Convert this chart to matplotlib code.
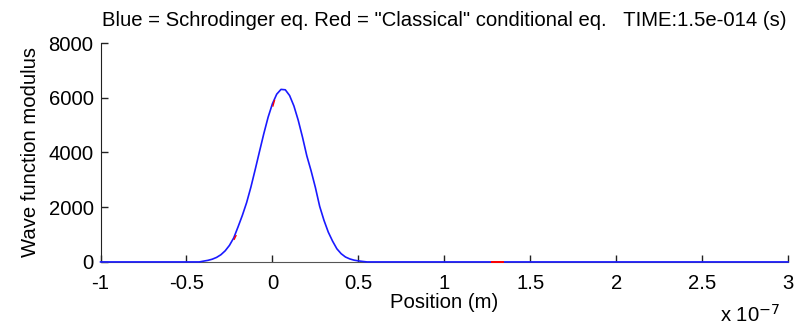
import numpy as np
import matplotlib.pyplot as plt
from matplotlib.ticker import FuncFormatter

plt.rcParams['font.family'] = ['Liberation Sans', 'DejaVu Sans']

# Schrodinger wave packet modulus (position in units of 1e-7 m)
pos_e7 = [-1.0, -0.425, -0.400, -0.375, -0.350, -0.325, -0.300, -0.275, -0.250,
          -0.225, -0.200, -0.175, -0.150, -0.125, -0.100, -0.075, -0.050,
          -0.025, 0.000, 0.025, 0.050, 0.075, 0.100, 0.125, 0.150, 0.175,
          0.200, 0.225, 0.250, 0.275, 0.300, 0.325, 0.350, 0.375, 0.400,
          0.425, 0.450, 0.475, 0.500, 0.525, 0.550, 3.0]
modulus = [0, 0, 30, 58, 100, 165, 262, 405, 605,
           880, 1280, 1700, 2170, 2740, 3380, 4040, 4690,
           5290, 5780, 6130, 6305, 6290, 6080, 5700, 5180, 4560,
           3880, 3330, 2720, 2030, 1520, 1090, 760, 480, 300,
           180, 110, 65, 38, 18, 0, 0]

# "Classical" conditional trajectories
classical_x_e7 = [-0.222, -0.212, 0.003, 0.012]
classical_y = [830, 960, 5700, 5900]
classical_tail_x_e7 = [1.28, 1.34]
classical_tail_y = [0, 0]

x = np.array(pos_e7) * 1e-7
xc = np.array(classical_x_e7) * 1e-7
xt = np.array(classical_tail_x_e7) * 1e-7

fs = 14.6

fig = plt.figure(figsize=(7.98, 3.27), dpi=100)
ax = fig.add_axes([0.126, 0.199, 0.8615, 0.6695])

ax.plot(x, modulus, color='#1a1aff', lw=1.2, zorder=3, clip_on=False)
ax.plot(xt, classical_tail_y, color='red', lw=1.4, zorder=4, clip_on=False)
for i in range(0, len(xc), 2):
    ax.plot(xc[i:i + 2], classical_y[i:i + 2], color='red', lw=1.0, zorder=4)

ax.set_xlim(-1e-7, 3e-7)
ax.set_ylim(0, 8000)
ax.set_xticks(np.arange(-1, 3.01, 0.5) * 1e-7)
ax.set_yticks([0, 2000, 4000, 6000, 8000])
ax.xaxis.set_major_formatter(FuncFormatter(lambda v, _: f'{v / 1e-7:g}'))

for side in ('top', 'right'):
    ax.spines[side].set_visible(False)
ax.spines['left'].set_color('#222222')
ax.spines['bottom'].set_color('#555555')
ax.tick_params(direction='in', length=5, width=1.0, colors='#222222',
               labelsize=fs, labelcolor='black')
ax.tick_params(axis='x', pad=9)
ax.tick_params(axis='y', pad=5)

ax.set_xlabel('Position (m)', fontsize=fs, labelpad=0)
ax.set_ylabel('Wave function modulus', fontsize=fs, labelpad=6)
ax.set_title('Blue = Schrodinger eq. Red = "Classical" conditional eq.   TIME:1.5e-014 (s)',
             fontsize=fs, pad=12)
fig.text(0.978, 0.004, r'x 10$^{-7}$', ha='right', va='bottom', fontsize=fs)

fig.savefig('out.png', dpi=100)
